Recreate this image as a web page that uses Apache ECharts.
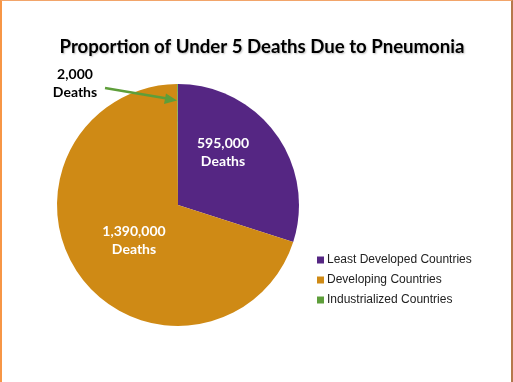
<!DOCTYPE html>
<html>
<head>
<meta charset="utf-8">
<script src="https://cdn.jsdelivr.net/npm/echarts@6/dist/echarts.min.js"></script>
<style>
html,body{margin:0;padding:0;background:#fff;}
#wrap{position:absolute;left:0;top:0;width:513px;height:382px;box-sizing:border-box;border-left:2px solid #F79646;border-top:1px solid #F2A56A;border-right:2px solid #B5784C;}
#chart{position:absolute;left:0;top:0;width:513px;height:382px;}
</style>
</head>
<body>
<div id="chart"></div>
<div id="wrap"></div>
<script>
var title = 'Proportion of Under 5 Deaths Due to Pneumonia';
var categories = ['Least Developed Countries', 'Developing Countries', 'Industrialized Countries'];
var deaths = [595000, 1390000, 2000];
var colors = ['#552683', '#CF8A15', '#5E9E3A'];
var labelColors = ['#fff', '#fff', '#000'];

// label placement (screen coords) per slice
var labelPos = [[223, 152], [134, 240], [75, 83]];

var chart = echarts.init(document.getElementById('chart'), null, {renderer: 'canvas'});
chart.setOption({
  backgroundColor: '#fff',
  animation: false,
  title: {
    text: title,
    left: 257,
    textAlign: 'center',
    top: 32,
    textStyle: {fontFamily: 'Lato', fontWeight: 'bold', fontSize: 18.6, color: '#000',
      textShadowColor: 'rgba(0,0,0,0.25)', textShadowBlur: 2, textShadowOffsetX: 1, textShadowOffsetY: 1}
  },
  legend: {
    orient: 'vertical',
    left: 312,
    top: 249,
    itemWidth: 7,
    itemHeight: 7,
    itemGap: 8,
    icon: 'rect',
    data: categories,
    textStyle: {fontFamily: 'Liberation Sans', fontSize: 12, color: '#222', padding: [0, 0, 0, -2]}
  },
  series: [{
    type: 'pie',
    center: [178, 205],
    radius: [0, 121],
    startAngle: 90,
    clockwise: true,
    minAngle: 0,
    avoidLabelOverlap: false,
    silent: true,
    data: categories.map(function (c, i) {
      return {name: c, value: deaths[i], itemStyle: {color: colors[i]},
        label: {color: labelColors[i]}};
    }),
    label: {
      show: true,
      position: 'inside',
      formatter: function (p) {
        return p.value.toLocaleString('en-US') + '\nDeaths';
      },
      fontFamily: 'Lato',
      fontWeight: 'bold',
      fontSize: 14,
      lineHeight: 18,
      align: 'center'
    },
    labelLine: {show: false},
    labelLayout: function (params) {
      var p = labelPos[params.dataIndex];
      return {x: p[0], y: p[1], align: 'center', verticalAlign: 'middle'};
    },
    itemStyle: {borderWidth: 0}
  }],
  graphic: [{
    type: 'line',
    z: 100,
    shape: {x1: 105, y1: 88, x2: 170, y2: 99},
    style: {stroke: '#5E9E3A', lineWidth: 2.5}
  }, {
    type: 'polygon',
    z: 100,
    shape: {points: [[177, 100.5], [166, 93.5], [164, 104]]},
    style: {fill: '#5E9E3A'}
  }]
});
</script>
</body>
</html>
